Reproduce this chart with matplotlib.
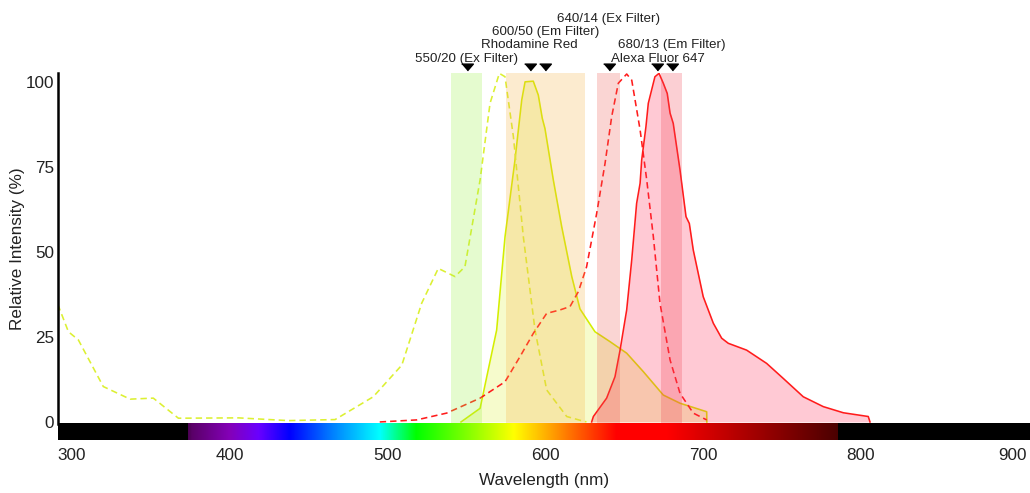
import numpy as np
import matplotlib
matplotlib.use("Agg")
import matplotlib.pyplot as plt
from matplotlib.colors import to_rgb
from matplotlib.patches import Rectangle
import matplotlib.transforms as mtransforms

plt.rcParams['font.family'] = ['Liberation Sans', 'DejaVu Sans']

# ---------------------------------------------------------------- data
# Rhodamine Red excitation (dashed) and emission (filled)
rr_ex_wl = [291, 297.7, 304, 319.8, 336.8, 351.5, 367.4, 405.4, 437, 466.7, 490.9,
            509, 521.6, 532.1, 542.7, 549, 558.6, 564.9, 570.8, 574.4, 579.7, 586,
            593.4, 600.8, 613.5, 621.9, 626]
rr_ex_val = [34.5, 26.5, 24.1, 10.4, 6.7, 7.0, 1.1, 1.2, 0.4, 0.7, 7.4,
             16.7, 34.9, 45.1, 42.7, 45.6, 71.1, 93.6, 102.4, 101.4, 83.8, 54.4,
             27.0, 9.4, 1.6, 0.5, 0.0]

rr_em_wl = [546.5, 558.6, 569.1, 574.4, 580.7, 585, 587.1, 592.3, 595.5, 598, 599.7,
            605, 610.3, 616.7, 621.9, 631.4, 640.9, 651.5, 662, 674.7, 685.3, 702.2, 702.3]
rr_em_val = [0.0, 4.0, 27.0, 54.4, 76.9, 94.6, 99.9, 100.1, 96.0, 89.2, 86.2,
             71.1, 57.4, 42.7, 33.2, 26.5, 23.6, 20.2, 14.8, 7.9, 5.5, 3.0, 0.0]

# Alexa Fluor 647 excitation (dashed) and emission (filled)
af_ex_wl = [495, 518.4, 537.4, 558.6, 574.4, 583.9, 592.3, 600.8, 609.2, 615.6, 620.9,
            626.1, 632.5, 637.8, 642, 646.2, 651.5, 654.7, 660, 664.2, 668.4, 672.6,
            679, 685.3, 693.7, 702.2]
af_ex_val = [0.0, 0.6, 2.6, 7.0, 11.8, 19.2, 26.0, 31.9, 32.9, 33.9, 38.3,
             45.6, 61.3, 76.0, 89.7, 99.5, 102.2, 100.4, 85.8, 71.1, 54.4, 34.9,
             18.2, 8.4, 2.6, 0.6]

af_em_wl = [629.3, 630.4, 638.8, 644.1, 647.3, 651.5, 654.7, 657.8, 660, 661, 663.7,
            665.2, 669.4, 672, 674.7, 677.2, 679, 681, 685.3, 689.1, 691.2, 693.7,
            700, 706.4, 711.7, 715.9, 727.5, 740.2, 750.7, 763.4, 776.1, 788.8,
            804.6, 805.7]
af_em_val = [0.0, 1.6, 7.0, 13.3, 21.1, 32.9, 47.6, 64.2, 70.1, 76.9, 86.7,
             93.6, 101.4, 102.4, 99.5, 96.5, 90.7, 87.7, 74.0, 60.3, 58.3, 50.5,
             36.8, 29.0, 24.6, 23.1, 21.1, 17.2, 12.8, 7.4, 4.5, 2.7,
             1.6, 0.0]

# Filter sets: centre / bandwidth
filter_names = ['550/20 (Ex Filter)', '600/50 (Em Filter)',
                '640/14 (Ex Filter)', '680/13 (Em Filter)']
filter_center = [550, 600, 640, 680]
filter_width = [20, 50, 14, 13]
filter_level = [0, 2, 3, 1]

# Fluorophores: emission maxima
dye_names = ['Rhodamine Red', 'Alexa Fluor 647']
dye_peak = [590, 671]
dye_level = [1, 0]

x_ticks = [300, 400, 500, 600, 700, 800, 900]
y_ticks = [0, 25, 50, 75, 100]

# visible-spectrum colour stops for the wavelength strip
spec_wl = [373.5, 376, 400, 418, 438, 465, 495, 518, 550, 580, 612, 645, 677, 785.5]
spec_col = ['#4a0052', '#5a0068', '#8400b8', '#6a00ff', '#0000ff', '#0080ff',
            '#00ffff', '#00ff00', '#80ff00', '#ffff00', '#ff8000', '#ff0000',
            '#ff0000', '#4a0000']

# ---------------------------------------------------------------- style
filter_color = ['#9af040', '#f7b040', '#ee5a50', '#f04050']
rr_line = '#d4ee00'
rr_dash = '#dcf032'
af_line = '#ff1c1c'
label_col = '#222222'
FS_TICK = 12.3
FS_ANN = 9.6
LW = 1.15

W, H = 1030, 493
fig = plt.figure(figsize=(W / 100, H / 100), dpi=100)
ax = fig.add_axes([58 / W, 1 - 440 / H, (W - 58) / W, (440 - 73) / H])

XMIN, XMAX = 291.1, 907.1
YMIN, YMAX = -5.3, 102.5
BAR_TOP = -0.6
ax.set_xlim(XMIN, XMAX)
ax.set_ylim(YMIN, YMAX)

# wavelength strip
lam = np.arange(XMIN, XMAX, 0.25)
stops = np.array([to_rgb(c) for c in spec_col])
rgb = np.stack([np.interp(lam, spec_wl, stops[:, k]) for k in range(3)], axis=1)
outside = (lam < spec_wl[0]) | (lam > spec_wl[-1])
rgb[outside] = 0.0
ax.imshow(rgb[np.newaxis, :, :], extent=[XMIN, XMAX, YMIN, BAR_TOP],
          aspect='auto', interpolation='nearest', zorder=6)

# Rhodamine Red
ax.fill_between(rr_em_wl, rr_em_val, 0, color=rr_line, alpha=0.2, lw=0, zorder=2)
ax.plot(rr_em_wl, rr_em_val, color=rr_line, lw=LW, zorder=2.5)
ax.plot(rr_ex_wl, rr_ex_val, color=rr_dash, lw=LW, dashes=(4, 2.5), zorder=2.5)

# Alexa Fluor 647
ax.plot(af_ex_wl, af_ex_val, color=af_line, lw=LW, dashes=(4, 2.5), zorder=3)
ax.fill_between(af_em_wl, af_em_val, 0, color='#ff2a55', alpha=0.25, lw=0, zorder=3.2)
ax.plot(af_em_wl, af_em_val, color=af_line, lw=LW, zorder=3.5)

# filter bands
for c, w, col in zip(filter_center, filter_width, filter_color):
    ax.add_patch(Rectangle((c - w / 2, BAR_TOP), w, YMAX - BAR_TOP,
                           facecolor=col, alpha=0.25, lw=0, zorder=4))

# markers and stacked labels above the plot area
tri = [(-1, 0.58), (1, 0.58), (0, -0.58)]
level_y = [105.6, 109.7, 113.6, 117.6]
marks = list(zip(filter_center, filter_names, filter_level)) + \
    list(zip(dye_peak, dye_names, dye_level))
for x, name, lev in marks:
    ax.plot([x], [104.3], marker=tri, markersize=8.4, color='black', lw=0,
            clip_on=False, zorder=7)
    ax.text(x, level_y[lev], name, ha='center', va='baseline', fontsize=FS_ANN,
            color=label_col, clip_on=False)

# axes decoration
for s in ['top', 'right', 'bottom']:
    ax.spines[s].set_visible(False)
ax.spines['left'].set_linewidth(1.8)
ax.spines['left'].set_bounds(BAR_TOP, YMAX)
ax.set_xticks(x_ticks)
ax.set_yticks(y_ticks)
ax.tick_params(axis='both', length=0, labelsize=FS_TICK, labelcolor=label_col)
ax.tick_params(axis='x', pad=6)
ax.tick_params(axis='y', pad=3)
last = ax.get_xticklabels()[-1]
last.set_transform(last.get_transform() +
                   mtransforms.ScaledTranslation(-6 / 100, 0, fig.dpi_scale_trans))

fig.text(544 / W, 1 - 481 / H, 'Wavelength (nm)', ha='center', va='center',
         fontsize=FS_TICK, color=label_col)
fig.text(18 / W, 1 - 249 / H, 'Relative Intensity (%)', ha='center', va='center',
         rotation=90, fontsize=FS_TICK, color=label_col)

fig.savefig('out.png', dpi=100)
